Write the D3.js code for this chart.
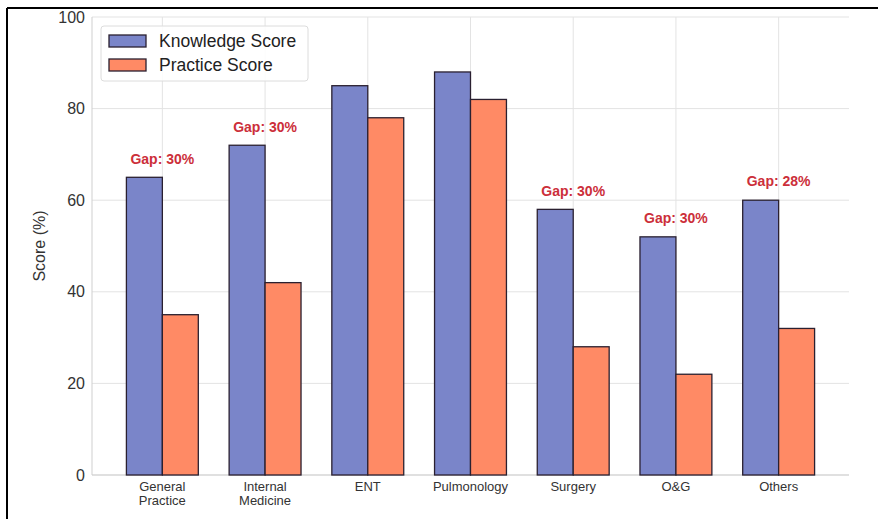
<!DOCTYPE html>
<html><head><meta charset="utf-8">
<script src="https://cdn.jsdelivr.net/npm/d3@7"></script>
<style>html,body{margin:0;padding:0;background:#fff;}svg{display:block;}</style>
</head><body>
<script>
const categories = ["General\nPractice","Internal\nMedicine","ENT","Pulmonology","Surgery","O&G","Others"];
const knowledge = [65, 72, 85, 88, 58, 52, 60];
const practice = [35, 42, 78, 82, 28, 22, 32];
const yTicks = [0, 20, 40, 60, 80, 100];
const seriesNames = ["Knowledge Score", "Practice Score"];
const colors = ["#7a85c9", "#ff8a65"];

const W = 878, H = 519;
const svg = d3.select("body").append("svg").attr("width", W).attr("height", H);
const font = "'Liberation Sans', Arial, sans-serif";

const barW = 0.35;
const x = d3.scaleLinear().domain([-0.685, 6.685]).range([92, 849]);
const y = d3.scaleLinear().domain([0, 100]).range([475, 17]);

// gridlines
const g = svg.append("g");
g.selectAll("line.hg").data(yTicks).enter().append("line")
  .attr("x1", x.range()[0]).attr("x2", x.range()[1])
  .attr("y1", d => y(d)).attr("y2", d => y(d))
  .attr("stroke", "#e3e3e3").attr("stroke-width", 1);
g.selectAll("line.vg").data(categories).enter().append("line")
  .attr("x1", (d,i) => x(i)).attr("x2", (d,i) => x(i))
  .attr("y1", y(0)).attr("y2", y(100))
  .attr("stroke", "#e3e3e3").attr("stroke-width", 1);

// spines
g.append("line").attr("x1", x.range()[0]).attr("x2", x.range()[0]).attr("y1", y(0)).attr("y2", y(100)).attr("stroke","#cfcfcf");
g.append("line").attr("x1", x.range()[0]).attr("x2", x.range()[1]).attr("y1", y(0)).attr("y2", y(0)).attr("stroke","#cfcfcf");

// bars
[knowledge, practice].forEach((vals, s) => {
  g.selectAll("rect.s"+s).data(vals).enter().append("rect")
    .attr("x", (d,i) => x(i + (s === 0 ? -barW : 0)))
    .attr("width", x(barW) - x(0))
    .attr("y", d => y(d))
    .attr("height", d => y(0) - y(d))
    .attr("fill", colors[s])
    .attr("stroke", "#2a2030").attr("stroke-width", 1.3);
});

// gap labels
knowledge.forEach((k, i) => {
  const gap = k - practice[i];
  if (gap >= 25) {
    g.append("text").attr("x", x(i)).attr("y", y(k + 3))
      .attr("text-anchor","middle").attr("font-family", font)
      .attr("font-size", 14).attr("font-weight","bold").attr("fill","#cc2f3a")
      .text("Gap: " + gap + "%");
  }
});

// y axis labels
g.selectAll("text.yt").data(yTicks).enter().append("text")
  .attr("x", 85).attr("y", d => y(d)).attr("dy","0.35em")
  .attr("text-anchor","end").attr("font-family", font).attr("font-size", 16).attr("fill","#333")
  .text(d => d);
g.append("text").attr("transform", `translate(45,${(y(0)+y(100))/2}) rotate(-90)`)
  .attr("text-anchor","middle").attr("font-family", font).attr("font-size", 16).attr("fill","#333")
  .text("Score (%)");

// x labels
categories.forEach((c, i) => {
  const lines = c.split("\n");
  const t = g.append("text").attr("text-anchor","middle").attr("font-family", font)
    .attr("font-size", 13).attr("fill","#333");
  lines.forEach((l, j) => {
    t.append("tspan").attr("x", x(i)).attr("y", 491 + j*14).text(l);
  });
});

// legend
const lg = svg.append("g");
lg.append("rect").attr("x",101).attr("y",26).attr("width",207).attr("height",55).attr("rx",3)
  .attr("fill","#fff").attr("fill-opacity",0.85).attr("stroke","#dcdcdc");
seriesNames.forEach((n, i) => {
  lg.append("rect").attr("x",109).attr("y",35 + i*24).attr("width",37).attr("height",12)
    .attr("fill",colors[i]).attr("stroke","#2a2030").attr("stroke-width",1.3);
  lg.append("text").attr("x",159).attr("y",41 + i*24).attr("dy","0.35em")
    .attr("font-family", font).attr("font-size",17.5).attr("fill","#222").text(n);
});

// outer border
svg.append("line").attr("x1",7).attr("x2",W).attr("y1",8).attr("y2",8).attr("stroke","#000").attr("stroke-width",2);
svg.append("line").attr("x1",7).attr("x2",7).attr("y1",8).attr("y2",H).attr("stroke","#000").attr("stroke-width",2);
</script>
</body></html>
